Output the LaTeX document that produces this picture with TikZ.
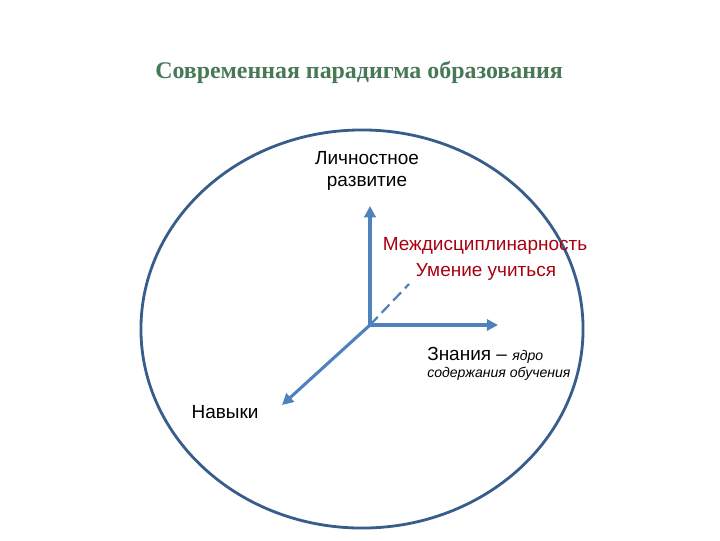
\documentclass[tikz,border=0pt]{standalone}
\usepackage{fontspec}
\setmainfont{Liberation Sans}
\newfontfamily\titlefont{Liberation Serif}
\usetikzlibrary{arrows.meta}
\definecolor{axisblue}{RGB}{79,129,189}
\definecolor{ringblue}{RGB}{56,93,138}
\definecolor{titlegreen}{RGB}{72,120,86}
\definecolor{darkred}{RGB}{170,0,16}

\begin{document}
\begin{tikzpicture}[x=0.025cm, y=-0.025cm,
axis/.style={draw=axisblue, line width=2.2pt, -{Triangle[length=8pt, width=8pt]}},
txt/.style={inner sep=0pt, font=\fontsize{13.5}{16}\selectfont},
redtxt/.style={txt, text=darkred},
small/.style={inner sep=0pt, font=\fontsize{10}{12}\selectfont\itshape},
]
\useasboundingbox (0,0) rectangle (720,540);
\node[font=\titlefont\bfseries\fontsize{17}{20}\selectfont, text=titlegreen] (title) at (359,72) {Современная парадигма образования};
\draw[ringblue, line width=2pt] (362,329) ellipse [x radius=5.525cm, y radius=4.975cm];
% axes
\coordinate (o) at (370,325);
\coordinate (up) at (370,206);
\coordinate (right) at (498,325);
\coordinate (down) at (282,405);
\coordinate (back) at (409,284);
\draw[axis] (o) -- (up);
\draw[axis] (o) -- (right);
\draw[axis] (o) -- (down);
\draw[axisblue, line width=1.6pt, dash pattern=on 8pt off 4pt] (o) -- (back);
% labels
\node[txt, align=center] (lichn) at (367,171) {Личностное\\развитие};
\node[redtxt] (mezhd) at (485,246) {Междисциплинарность};
\node[redtxt] (umen) at (486,272) {Умение учиться};
\node[txt, anchor=west] (znan) at (427,355) {Знания -- \textit{\fontsize{10}{12}\selectfont ядро}};
\node[small, anchor=west] (soderzh) at (427,374) {содержания обучения};
\node[txt] (navyki) at (225,412) {Навыки};
\end{tikzpicture}
\end{document}
